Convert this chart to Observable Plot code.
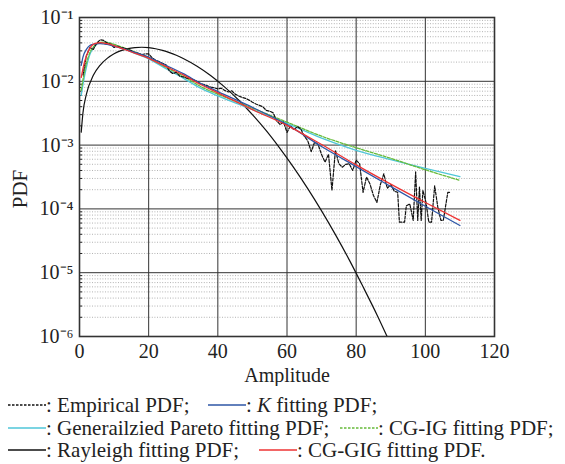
<!DOCTYPE html>
<html>
<head>
<meta charset="utf-8">
<script src="https://cdn.jsdelivr.net/npm/d3@7"></script>
<script src="https://cdn.jsdelivr.net/npm/@observablehq/plot@0.6"></script>
<style>
  html, body { margin: 0; padding: 0; background: #fff; }
  #wrap { width: 565px; font-family: "Liberation Serif", "Times New Roman", serif; color: #222; }
  #wrap > svg { display: block; }
  .legend { font-size: 21px; line-height: 22.5px; padding-top: 8px; white-space: nowrap; }
  .legend .row { position: relative; height: 22.5px; }
  .legend .item { position: absolute; top: 0; }
  .legend svg { vertical-align: middle; margin-top: -4px; }
</style>
</head>
<body>
<div id="wrap"></div>
<script>
// ---- data ----
const xTicks = [0, 20, 40, 60, 80, 100, 120];
const yTicks = [1e-6, 1e-5, 1e-4, 1e-3, 1e-2, 1e-1];
const yTickLabels = ["10\u207B\u2076", "10\u207B\u2075", "10\u207B\u2074", "10\u207B\u00B3", "10\u207B\u00B2", "10\u207B\u00B9"];
const minorMultipliers = [2, 3, 4, 5, 6, 7, 8, 9];

const empX = [1,2,3,4,5,6,7,8,9,10,11,12,13,14,15,16,17,18,19,20,21,22,23,24,25,26,27,28,29,30,31,32,33,34,35,36,37,38,39,40,41,42,43,44,45,46,47,48,49,50,51,52,53,54,55,56,57,58,59,60,61,62,63,64,65,66,67,68,69,70,71,72,73,74,75,76,77,78,79,80,81,82,83,84,85,86,87,88,89,90,91,92,92.5,94,94.5,95.5,96.5,97.2,97.8,98.3,98.8,99.3,100.2,101,101.8,102.7,103.6,104.5,105.2,106.5,107];
const empY = [0.0126,0.0251,0.0339,0.0316,0.0398,0.0447,0.0437,0.0398,0.0380,0.0339,0.0355,0.0339,0.0331,0.0316,0.0302,0.0282,0.0275,0.0263,0.0269,0.0269,0.0234,0.0214,0.0204,0.0191,0.0182,0.0145,0.0132,0.0138,0.0120,0.0117,0.0112,0.0110,0.0105,0.0100,0.0091,0.0089,0.0085,0.0081,0.0079,0.0076,0.0078,0.0072,0.0068,0.0071,0.0063,0.0059,0.0056,0.0054,0.0051,0.0047,0.0044,0.0042,0.0040,0.0035,0.0034,0.0032,0.0024,0.0021,0.0023,0.00158,0.0020,0.00174,0.00195,0.00178,0.00138,0.00117,0.00079,0.00112,0.00102,0.00071,0.00054,0.00072,0.000195,0.00083,0.00051,0.00045,0.00050,0.00051,0.00040,0.00058,0.00051,0.000182,0.000316,0.000245,0.000162,0.000126,0.00024,0.000355,0.00021,0.00024,0.00019,0.000182,0.000062,0.000062,0.000112,0.00012,0.000066,0.00038,0.000066,0.00022,0.000066,0.000195,0.000126,0.000062,0.000062,0.00023,0.000107,0.000066,0.000066,0.000182,0.000182];

const fitX = [0.5,1,2,3,4,5,6,7,8,10,12,15,20,25,30,35,40,50,60,70,80,90,100,110];
const kY     = [0.0178,0.0240,0.0316,0.0363,0.0380,0.0389,0.0389,0.0385,0.0380,0.0355,0.0331,0.0295,0.0240,0.0178,0.0132,0.0093,0.0069,0.0039,0.00209,0.00095,0.00046,0.000224,0.00011,0.000055];
const gpY    = [0.0060,0.0089,0.0166,0.0263,0.0331,0.0380,0.0398,0.0407,0.0403,0.0372,0.0339,0.0288,0.0224,0.0158,0.0112,0.0078,0.0059,0.0036,0.00219,0.00129,0.00083,0.00059,0.00043,0.00032];
const cgigY  = [0.0072,0.0105,0.0191,0.0282,0.0347,0.0389,0.0407,0.0412,0.0407,0.0380,0.0347,0.0302,0.0234,0.0166,0.0120,0.0083,0.0063,0.0038,0.00229,0.00138,0.00091,0.00062,0.00041,0.00028];
const cggigY = [0.0115,0.0158,0.0251,0.0331,0.0380,0.0398,0.0403,0.0398,0.0389,0.0363,0.0331,0.0288,0.0229,0.0170,0.0126,0.0089,0.0066,0.0036,0.00204,0.00102,0.00049,0.000245,0.000126,0.000066];

const rayX = [0.5,1,2,4,6,8,10,12,14,16,18,20,22,24,26,28,30,34,38,42,46,50,54,58,62,66,70,74,78,82,86,90];
const rayY = [0.0016,0.0032,0.0063,0.0124,0.0180,0.0229,0.0271,0.0303,0.0326,0.0338,0.0342,0.0337,0.0324,0.0305,0.0282,0.0256,0.0228,0.0172,0.0122,0.0081,0.0051,0.0030,0.00168,0.00088,0.00044,0.000208,0.000093,0.0000395,0.0000159,0.000006,0.0000022,0.00000075];

// ---- build ----
const toRows = (xs, ys) => xs.map((x, i) => ({x, y: ys[i]}));
const minorY = [];
for (let k = 1; k < yTicks.length; k++) for (const m of minorMultipliers) minorY.push(m * yTicks[k - 1]);

const colors = {emp: "#111", k: "#2e56a6", gp: "#4fc6d8", cgig: "#66bb3a", cggig: "#ee3333", ray: "#111"};

const chart = Plot.plot({
  width: 565,
  height: 386,
  marginLeft: 79,
  marginRight: 71,
  marginTop: 17,
  marginBottom: 50,
  style: {fontFamily: "'Liberation Serif', serif", fontSize: "20px", color: "#222", background: "#fff"},
  x: {domain: [0, 120], ticks: xTicks, tickSize: 0, tickPadding: 7, label: "Amplitude", labelAnchor: "center", labelArrow: "none", labelOffset: 45},
  y: {type: "log", domain: [1e-6, 1e-1], ticks: yTicks, tickFormat: (d) => yTickLabels[yTicks.indexOf(d)], tickSize: 0, tickPadding: 6, label: null},
  marks: [
    Plot.ruleY(minorY, {stroke: "#a0a0a0", strokeWidth: 0.8, strokeDasharray: "1,1.6"}),
    Plot.ruleY(minorY, {x1: 0, x2: 0.9, stroke: "#222", strokeWidth: 1}),
    Plot.ruleY(yTicks, {stroke: "#333", strokeWidth: 1}),
    Plot.ruleX(xTicks.slice(1, -1), {stroke: "#333", strokeWidth: 1}),
    Plot.frame({stroke: "#333", strokeWidth: 1.6}),
    Plot.line(toRows(rayX, rayY), {x: "x", y: "y", stroke: colors.ray, strokeWidth: 1.2, curve: "monotone-x", clip: true}),
    Plot.line(toRows(fitX, gpY), {x: "x", y: "y", stroke: colors.gp, strokeWidth: 1.3, curve: "monotone-x"}),
    Plot.line(toRows(fitX, cgigY), {x: "x", y: "y", stroke: colors.cgig, strokeWidth: 1.3, strokeDasharray: "3,1.5", curve: "monotone-x"}),
    Plot.line(toRows(empX, empY), {x: "x", y: "y", stroke: colors.emp, strokeWidth: 1.2, strokeDasharray: "3,1.5", clip: true}),
    Plot.line(toRows(fitX, kY), {x: "x", y: "y", stroke: colors.k, strokeWidth: 1.3, curve: "monotone-x"}),
    Plot.line(toRows(fitX, cggigY), {x: "x", y: "y", stroke: colors.cggig, strokeWidth: 1.3, curve: "monotone-x"}),
    Plot.text(["PDF"], {frameAnchor: "left", dx: -59, dy: 12, rotate: -90, textAnchor: "middle", fontSize: 21, fill: "#222"})
  ]
});

const wrap = document.getElementById("wrap");
wrap.appendChild(chart);

function sample(color, dash) {
  return `<svg width="38" height="10"><line x1="0" x2="38" y1="5" y2="5" stroke="${color}" stroke-width="1.3" ${dash ? 'stroke-dasharray="2.5,1.5"' : ""}/></svg>`;
}
function row(a, b, bLeft) {
  return `<div class="row"><span class="item" style="left:8px">${a}</span><span class="item" style="left:${bLeft}px">${b}</span></div>`;
}
const legend = document.createElement("div");
legend.className = "legend";
legend.innerHTML =
  row(`${sample(colors.emp, true)}: Empirical PDF;`, `${sample(colors.k, false)}: <i>K</i> fitting PDF;`, 208) +
  row(`${sample(colors.gp, false)}: Generailzied Pareto fitting PDF;`, `${sample(colors.cgig, true)}: CG-IG fitting PDF;`, 340) +
  row(`${sample(colors.ray, false)}: Rayleigh fitting PDF;`, `${sample(colors.cggig, false)}: CG-GIG fitting PDF.`, 259);
wrap.appendChild(legend);
</script>
</body>
</html>
